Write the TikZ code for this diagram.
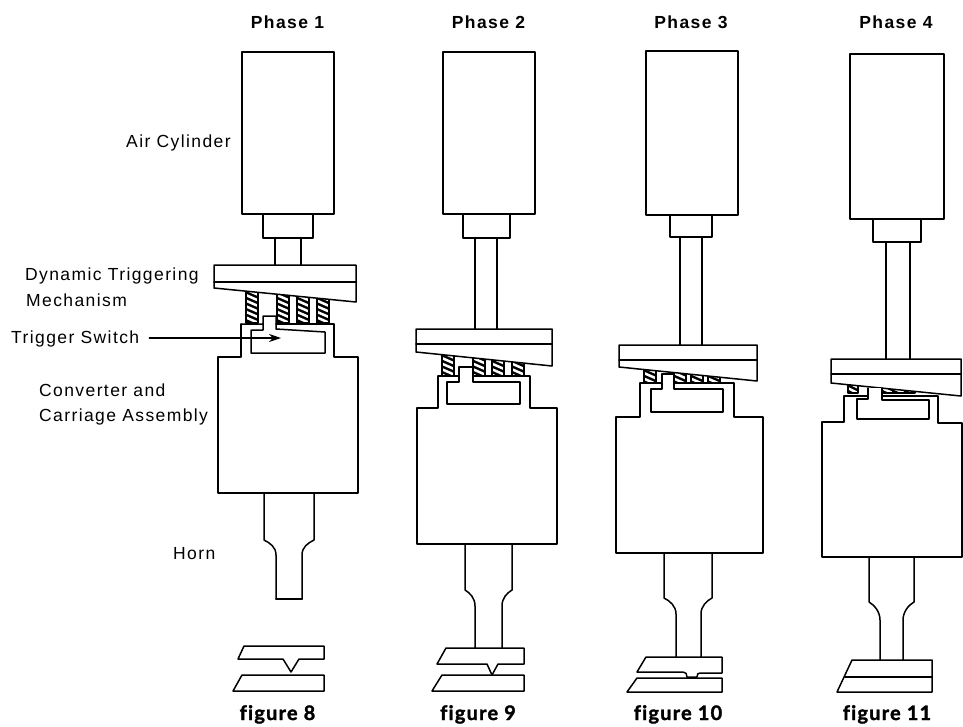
\documentclass[tikz,border=0pt]{standalone}
\usepackage{fontspec}
\setmainfont{Liberation Sans}[LetterSpace=8]
\newfontfamily\figfont{Lato}[LetterSpace=6,Ligatures=CommonOff,BoldFeatures={FakeBold=1.5}]
\usetikzlibrary{arrows.meta}
\newcommand\spr[4]{%
  \begin{scope}
    \clip (#1,#3) rectangle (#2,#4);
    \fill[black] (#1,#3) rectangle (#2,#4);
    \foreach \k in {-4,...,10}{\draw[white,line width=2.5pt] (#1-2,#3+\k*5.6) -- (#2+2,#3+\k*5.6+7);}
  \end{scope}
  \draw[part] (#1,#3) -- (#1,#4) (#2,#3) -- (#2,#4) (#1,#4) -- (#2,#4);}
\newcommand\horn[8]{%
  \draw[part] (#1,#5) -- (#1,#6) .. controls ({(#1+#3)/2},#6+3) and (#3,#7-8) .. (#3,#7) -- (#3,#8)
              (#2,#5) -- (#2,#6) .. controls ({(#2+#4)/2},#6+3) and (#4,#7-8) .. (#4,#7) -- (#4,#8);}
\tikzset{
  part/.style={line width=1.5pt,line join=round,line cap=round,black},
  solid part/.style={part,fill=white},
  lab/.style={anchor=base west,inner sep=0pt,font=\fontsize{17.5}{17.5}\selectfont},
  phase/.style={anchor=base,inner sep=0pt,font=\fontsize{17.5}{17.5}\selectfont\bfseries},
  figlab/.style={anchor=base,inner sep=0pt,font=\fontsize{20}{20}\selectfont\figfont\bfseries},
}
\begin{document}
\begin{tikzpicture}[x=1pt,y=-1pt]
\useasboundingbox[fill=white] (0,0) rectangle (963,726);
% headings
\node[phase] (ph1) at (287.5,28) {Phase 1};
\node[phase] (ph2) at (488.5,28) {Phase 2};
\node[phase] (ph3) at (691,28) {Phase 3};
\node[phase] (ph4) at (896,28) {Phase 4};
\node[figlab] (fg8) at (277.5,720) {figure 8};
\node[figlab] (fg9) at (478,720) {figure 9};
\node[figlab] (fg10) at (678,720) {figure 10};
\node[figlab] (fg11) at (887,720) {figure 11};
% labels
\node[lab] (lcyl) at (126,147) {Air Cylinder};
\node[lab] (ldyn) at (25,280) {Dynamic Triggering};
\node[lab] (lmec) at (26,306) {Mechanism};
\node[lab] (ltrg) at (11,343) {Trigger Switch};
\node[lab] (lcon) at (39,396) {Converter and};
\node[lab] (lcar) at (39,421) {Carriage Assembly};
\node[lab] (lhrn) at (173,559) {Horn};

% ===== Phase 1
\draw[part] (242,52) rectangle (334,214);
\draw[part] (263,214) rectangle (313,238);
\draw[part] (275,238) -- (275,265) (301,238) -- (301,265);
\spr{246}{258}{283}{323}\spr{277}{289}{283}{323}\spr{297}{309}{283}{323}\spr{317}{329}{283}{323}
\draw[solid part] (214,265) -- (356,265) -- (356,302) -- (214,288) -- cycle;
\draw[part] (214,282) -- (356,282);
\fill[white] (241,324) -- (263,324) -- (263,316) -- (276,316) -- (276,324) -- (334,324) -- (334,357) -- (358,357) -- (358,493) -- (218,493) -- (218,357) -- (241,357) -- cycle;
\draw[part] (241,324) -- (263,324) -- (263,316) -- (276,316) -- (276,329) -- (325,332) -- (325,353) -- (251,353) -- (251,330) -- (263,330) -- (263,324);
\draw[part] (276,324) -- (334,324) -- (334,357) -- (358,357) -- (358,493) -- (218,493) -- (218,357) -- (241,357) -- (241,324);
\horn{264}{314}{276}{302}{493}{540}{555}{599}
\draw[part] (276,599) -- (302,599);
\draw[part] (244,646) -- (324,646) -- (324,659) -- (299,659) -- (291,672) -- (283,659) -- (238,659) -- cycle;
\draw[part] (242,675) -- (324,675) -- (324,691) -- (233,691) -- cycle;
\coordinate (trgtip) at (281,338);
\draw[part,-{Stealth[length=12pt,width=8pt]},shorten <=10pt] (ltrg.east |- trgtip) -- (trgtip);

% ===== Phase 2
\draw[part] (443,52) rectangle (535,214);
\draw[part] (463,214) rectangle (510,238);
\draw[part] (475,238) -- (475,329) (497,238) -- (497,329);
\spr{442}{454}{346}{376}\spr{473}{485}{346}{376}\spr{492}{504}{346}{376}\spr{512}{524}{346}{376}
\draw[solid part] (416,329) -- (552,329) -- (552,366) -- (416,352) -- cycle;
\draw[part] (416,344) -- (552,344);
\fill[white] (438,376) -- (459,376) -- (459,367) -- (473,367) -- (473,376) -- (530,376) -- (530,408) -- (557,408) -- (557,544) -- (417,544) -- (417,408) -- (438,408) -- cycle;
\draw[part] (438,376) -- (459,376) -- (459,367) -- (473,367) -- (473,382) -- (520,382) -- (520,404) -- (447,404) -- (447,382) -- (459,382) -- (459,376);
\draw[part] (473,376) -- (530,376) -- (530,408) -- (557,408) -- (557,544) -- (417,544) -- (417,408) -- (438,408) -- (438,376);
\horn{465}{512}{475}{502}{544}{590}{606}{648}
\draw[part] (446,648) -- (524,648) -- (524,664) -- (498,664) -- (492,675) -- (487,664) -- (437,664) -- cycle;
\draw[part] (442,675) -- (524,675) -- (524,691) -- (432,691) -- cycle;

% ===== Phase 3
\draw[part] (646,51) rectangle (738,215);
\draw[part] (670,215) rectangle (712,237);
\draw[part] (680,237) -- (680,345) (702,237) -- (702,345);
\spr{644}{656}{361}{383}\spr{674}{686}{361}{383}\spr{691}{703}{361}{383}\spr{708}{720}{361}{383}
\draw[solid part] (619,345) -- (757,345) -- (757,381) -- (619,367) -- cycle;
\draw[part] (619,360) -- (757,360);
\fill[white] (640,383) -- (662,383) -- (662,374) -- (674,374) -- (674,383) -- (734,383) -- (734,417) -- (763,417) -- (763,553) -- (616,553) -- (616,417) -- (640,417) -- cycle;
\draw[part] (640,383) -- (662,383) -- (662,374) -- (674,374) -- (674,389) -- (723,389) -- (723,412) -- (651,412) -- (651,389) -- (662,389) -- (662,383);
\draw[part] (674,383) -- (734,383) -- (734,417) -- (763,417) -- (763,553) -- (616,553) -- (616,417) -- (640,417) -- (640,383);
\horn{664}{712}{676}{701}{553}{598}{614}{657}
\draw[part] (646,657) -- (722,657) -- (722,673) -- (700,673) .. controls (698,673) and (697,674) .. (697,677) -- (687,677) .. controls (687,674) and (686,672) .. (683,672) -- (637,672) -- cycle;
\draw[part] (637,678) -- (722,678) -- (722,692) -- (627,692) -- cycle;

% ===== Phase 4
\draw[part] (850,54) rectangle (944,219);
\draw[part] (873,219) rectangle (921,242);
\draw[part] (886,242) -- (886,359) (910,242) -- (910,359);
\spr{848}{858}{376}{393}\spr{882}{893}{376}{393}\spr{893}{905}{376}{393}\spr{905}{915}{376}{393}
\draw[solid part] (831,359) -- (961,359) -- (961,396) -- (831,383) -- cycle;
\draw[part] (831,374) -- (961,374);
\fill[white] (844,396) -- (868,396) -- (868,388) -- (882,388) -- (882,396) -- (938,396) -- (938,423) -- (962,423) -- (962,557) -- (822,557) -- (822,422) -- (844,422) -- cycle;
\draw[part] (844,396) -- (868,396) -- (868,388) (882,388) -- (882,400) -- (929,400) -- (929,419) -- (857,419) -- (857,399) -- (868,399) -- (868,396);
\draw[part] (882,396) -- (938,396) -- (938,423) -- (962,423) -- (962,557) -- (822,557) -- (822,422) -- (844,422) -- (844,396);
\horn{869}{914}{880}{903}{557}{602}{620}{660}
\draw[part] (852,660) -- (932,660) -- (932,692) -- (837,692) -- cycle;
\draw[part] (845,677) -- (932,677);
\end{tikzpicture}
\end{document}
